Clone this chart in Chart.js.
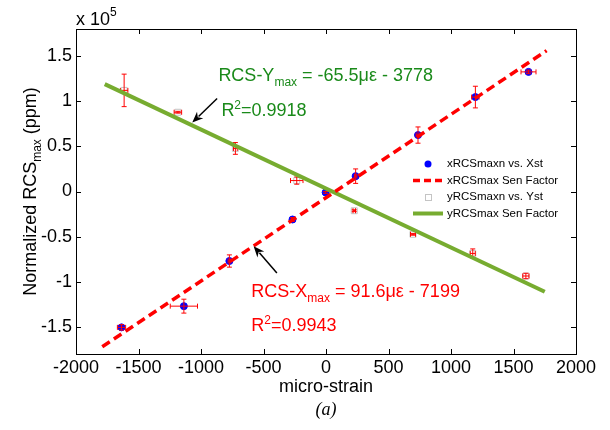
<!DOCTYPE html>
<html>
<head>
<meta charset="utf-8">
<title>Normalized RCS max vs micro-strain</title>
<script src="https://cdn.jsdelivr.net/npm/chart.js@4.4.0/dist/chart.umd.min.js"></script>
<style>
  body { margin: 0; background: #fff; }
  #wrap { width: 610px; height: 430px; }
</style>
</head>
<body>
<div id="wrap"><canvas id="rcsChart" width="610" height="430"></canvas></div>
<script>
// measured points: x in micro-strain, y in units of 1e5 ppm
const xStrain = [-1636, -1137, -773, -268, -3, 237, 736, 1195, 1620];
const xRcs = [-1.505, -1.27, -0.77, -0.31, -0.01, 0.17, 0.625, 1.046, 1.325];
const xStrainErr = [33, 109, 10, 8, 0, 10, 15, 30, 60];
const xRcsErr = [0.03, 0.077, 0.068, 0.02, 0.01, 0.08, 0.09, 0.12, 0.02];

const yStrain = [-1615, -1185, -725, -234, 226, 696, 1174, 1599];
const yRcs = [1.12, 0.878, 0.477, 0.121, -0.213, -0.474, -0.686, -0.936];
const yStrainErr = [30, 30, 15, 50, 10, 20, 20, 25];
const yRcsErr = [0.18, 0.01, 0.065, 0.04, 0.01, 0.01, 0.05, 0.03];

// sensitivity factor lines (end points)
const xFitStrain = [-1790, 1765];
const xFitRcs = [-1.72, 1.56];
const yFitStrain = [-1770, 1750];
const yFitRcs = [1.19, -1.11];

// tick labels
const xTicks = [-2000, -1500, -1000, -500, 0, 500, 1000, 1500, 2000];
const yTicks = [-1.5, -1, -0.5, 0, 0.5, 1, 1.5];

const seriesNames = [
  "xRCSmaxn vs. Xst",
  "xRCSmax Sen Factor",
  "yRCSmaxn vs. Yst",
  "yRCSmax Sen Factor",
];

// annotation anchors, in data units
const greenNote = { x: -861, y1: 1.22, y2: 0.84 };
const redNote = { x: -598, y1: -1.173, y2: -1.54 };
const greenArrow = { x0: -871, y0: 1.03, x1: -1070, y1: 0.763 };
const redArrow = { x0: -393, y0: -0.903, x1: -579, y1: -0.606 };

const FONT = '"Liberation Sans", Arial, sans-serif';
const BLUE = "#0000ff";
const RED = "#ff0000";
const GREEN_LINE = "#77ac30";
const GREEN_TEXT = "#1a8a1a";
const GRAY = "#c4c4c4";

function toPoints(xs, ys) {
  return xs.map((x, i) => ({ x: x, y: ys[i] }));
}

// draws text made of pieces, some of them sub/superscript
function drawRich(ctx, parts, x, y, color) {
  ctx.fillStyle = color;
  ctx.textBaseline = "alphabetic";
  ctx.textAlign = "left";
  let cx = x;
  parts.forEach((p) => {
    ctx.font = p.size + "px " + FONT;
    ctx.fillText(p.text, cx, y + (p.dy || 0));
    cx += ctx.measureText(p.text).width;
  });
  return cx - x;
}

function richWidth(ctx, parts) {
  let w = 0;
  parts.forEach((p) => {
    ctx.font = p.size + "px " + FONT;
    w += ctx.measureText(p.text).width;
  });
  return w;
}

function arrow(ctx, x0, y0, x1, y1) {
  const ang = Math.atan2(y1 - y0, x1 - x0);
  const len = 11;
  const half = 4.5;
  ctx.strokeStyle = "#000";
  ctx.fillStyle = "#000";
  ctx.lineWidth = 1.5;
  ctx.beginPath();
  ctx.moveTo(x0, y0);
  ctx.lineTo(x1 - Math.cos(ang) * len * 0.8, y1 - Math.sin(ang) * len * 0.8);
  ctx.stroke();
  ctx.beginPath();
  ctx.moveTo(x1, y1);
  ctx.lineTo(
    x1 - Math.cos(ang) * len + Math.sin(ang) * half,
    y1 - Math.sin(ang) * len - Math.cos(ang) * half
  );
  ctx.lineTo(x1 - Math.cos(ang) * len * 0.7, y1 - Math.sin(ang) * len * 0.7);
  ctx.lineTo(
    x1 - Math.cos(ang) * len - Math.sin(ang) * half,
    y1 - Math.sin(ang) * len + Math.cos(ang) * half
  );
  ctx.closePath();
  ctx.fill();
}

//error bars, frame, ticks, titles, notes and legend
const extras = {
  id: "extras",
  afterDatasetDraw(chart, args) {
    let xs, ys, ex, ey;
    if (args.index === 0) {
      xs = xStrain; ys = xRcs; ex = xStrainErr; ey = xRcsErr;
    } else if (args.index === 2) {
      xs = yStrain; ys = yRcs; ex = yStrainErr; ey = yRcsErr;
    } else {
      return;
    }
    const ctx = chart.ctx;
    const sx = chart.scales.x;
    const sy = chart.scales.y;
    const cap = 2.5;
    ctx.save();
    ctx.strokeStyle = RED;
    ctx.lineWidth = 1;
    xs.forEach((x, i) => {
      const px = sx.getPixelForValue(x);
      const py = sy.getPixelForValue(ys[i]);
      const left = sx.getPixelForValue(x - ex[i]);
      const right = sx.getPixelForValue(x + ex[i]);
      const top = sy.getPixelForValue(ys[i] + ey[i]);
      const bottom = sy.getPixelForValue(ys[i] - ey[i]);
      ctx.beginPath();
      if (right - left > 1) {
        ctx.moveTo(left, py); ctx.lineTo(right, py);
        ctx.moveTo(left, py - cap); ctx.lineTo(left, py + cap);
        ctx.moveTo(right, py - cap); ctx.lineTo(right, py + cap);
      }
      if (bottom - top > 1) {
        ctx.moveTo(px, top); ctx.lineTo(px, bottom);
        ctx.moveTo(px - cap, top); ctx.lineTo(px + cap, top);
        ctx.moveTo(px - cap, bottom); ctx.lineTo(px + cap, bottom);
      }
      ctx.stroke();
    });
    ctx.restore();
  },
  afterDraw(chart) {
    const ctx = chart.ctx;
    const a = chart.chartArea;
    const sx = chart.scales.x;
    const sy = chart.scales.y;
    ctx.save();

    // box + inward ticks on all sides
    ctx.strokeStyle = "#000";
    ctx.lineWidth = 1;
    ctx.strokeRect(a.left + 0.5, a.top + 0.5, a.right - a.left, a.bottom - a.top);
    ctx.beginPath();
    xTicks.forEach((v) => {
      const px = Math.round(sx.getPixelForValue(v)) + 0.5;
      ctx.moveTo(px, a.bottom); ctx.lineTo(px, a.bottom - 5);
      ctx.moveTo(px, a.top); ctx.lineTo(px, a.top + 5);
    });
    yTicks.forEach((v) => {
      const py = Math.round(sy.getPixelForValue(v)) + 0.5;
      ctx.moveTo(a.left, py); ctx.lineTo(a.left + 5, py);
      ctx.moveTo(a.right, py); ctx.lineTo(a.right - 5, py);
    });
    ctx.stroke();

    // exponent label
    drawRich(ctx, [
      { text: "x 10", size: 18 },
      { text: "5", size: 12, dy: -9 },
    ], a.left, a.top - 4, "#000");

    // x title
    ctx.fillStyle = "#000";
    ctx.font = "18px " + FONT;
    ctx.textAlign = "center";
    ctx.textBaseline = "middle";
    ctx.fillText("micro-strain", (a.left + a.right) / 2, 387);
    ctx.font = 'italic 18px "Liberation Serif", "Times New Roman", serif';
    ctx.fillText("(a)", (a.left + a.right) / 2, 410);

    // y title, rotated
    const yTitle = [
      { text: "Normalized RCS", size: 18 },
      { text: "max", size: 12, dy: 5 },
      { text: " (ppm)", size: 18 },
    ];
    ctx.save();
    ctx.translate(36, (a.top + a.bottom) / 2);
    ctx.rotate(-Math.PI / 2);
    drawRich(ctx, yTitle, -richWidth(ctx, yTitle) / 2, 0, "#000");
    ctx.restore();

    // fit equations
    drawRich(ctx, [
      { text: "RCS-Y", size: 18 },
      { text: "max", size: 12, dy: 5 },
      { text: " = -65.5\u03bc\u03b5 - 3778", size: 18 },
    ], sx.getPixelForValue(greenNote.x), sy.getPixelForValue(greenNote.y1), GREEN_TEXT);
    drawRich(ctx, [
      { text: "R", size: 18 },
      { text: "2", size: 12, dy: -7 },
      { text: "=0.9918", size: 18 },
    ], sx.getPixelForValue(greenNote.x) + 3, sy.getPixelForValue(greenNote.y2), GREEN_TEXT);
    drawRich(ctx, [
      { text: "RCS-X", size: 18 },
      { text: "max", size: 12, dy: 5 },
      { text: " = 91.6\u03bc\u03b5 - 7199", size: 18 },
    ], sx.getPixelForValue(redNote.x), sy.getPixelForValue(redNote.y1), RED);
    drawRich(ctx, [
      { text: "R", size: 18 },
      { text: "2", size: 12, dy: -7 },
      { text: "=0.9943", size: 18 },
    ], sx.getPixelForValue(redNote.x), sy.getPixelForValue(redNote.y2), RED);

    [greenArrow, redArrow].forEach((ar) => {
      arrow(ctx,
        sx.getPixelForValue(ar.x0), sy.getPixelForValue(ar.y0),
        sx.getPixelForValue(ar.x1), sy.getPixelForValue(ar.y1));
    });

    // legend (no box)
    const lx = a.right - 163;
    const tx = a.right - 129;
    const ly = a.top + 135;
    const row = 16.5;
    ctx.font = "11.5px " + FONT;
    ctx.textAlign = "left";
    ctx.textBaseline = "middle";
    seriesNames.forEach((name, i) => {
      const y = ly + i * row;
      const cx = lx + 15;
      if (i === 0) {
        ctx.fillStyle = BLUE;
        ctx.beginPath();
        ctx.arc(cx, y, 3.5, 0, Math.PI * 2);
        ctx.fill();
      } else if (i === 2) {
        ctx.strokeStyle = GRAY;
        ctx.lineWidth = 1;
        ctx.strokeRect(cx - 2.5, y - 2.5, 6, 6);
      } else {
        ctx.strokeStyle = i === 1 ? RED : GREEN_LINE;
        ctx.lineWidth = i === 1 ? 3.5 : 4;
        ctx.setLineDash(i === 1 ? [7, 4] : []);
        ctx.beginPath();
        ctx.moveTo(lx, y); ctx.lineTo(lx + 30, y);
        ctx.stroke();
        ctx.setLineDash([]);
      }
      ctx.fillStyle = "#000";
      ctx.fillText(name, tx, y);
    });

    ctx.restore();
  },
};

const ctx = document.getElementById("rcsChart").getContext("2d");

const rcsChart = new Chart(ctx, {
  type: "scatter",
  data: {
    datasets: [
      {
        label: seriesNames[0],
        data: toPoints(xStrain, xRcs),
        backgroundColor: BLUE,
        borderColor: BLUE,
        pointRadius: 3.5,
        order: 2,
      },
      {
        label: seriesNames[1],
        data: toPoints(xFitStrain, xFitRcs),
        showLine: true,
        borderColor: RED,
        borderWidth: 3.5,
        borderDash: [9, 5],
        pointRadius: 0,
        order: 0,
      },
      {
        label: seriesNames[2],
        data: toPoints(yStrain, yRcs),
        pointStyle: "rect",
        pointRadius: 4.2,
        backgroundColor: "rgba(0,0,0,0)",
        borderColor: GRAY,
        borderWidth: 1,
        order: 3,
      },
      {
        label: seriesNames[3],
        data: toPoints(yFitStrain, yFitRcs),
        showLine: true,
        borderColor: GREEN_LINE,
        borderWidth: 4,
        pointRadius: 0,
        order: 1,
      },
    ],
  },
  options: {
    responsive: false,
    animation: false,
    layout: { padding: { top: 29, right: 34, left: 0, bottom: 0 } },
    plugins: {
      legend: { display: false },
      tooltip: { enabled: false },
    },
    scales: {
      x: {
        type: "linear",
        min: -2000,
        max: 2000,
        grid: { display: false, drawTicks: false, tickLength: 0 },
        border: { display: false },
        afterBuildTicks: (scale) => {
          scale.ticks = xTicks.map((v) => ({ value: v }));
        },
        afterFit: (scale) => {
          scale.height = 76;
        },
        ticks: {
          padding: 3,
          color: "#000",
          font: { family: FONT, size: 18 },
          maxRotation: 0,
          autoSkip: false,
          callback: (v) => String(v),
        },
      },
      y: {
        type: "linear",
        min: -1.8,
        max: 1.8,
        grid: { display: false, drawTicks: false, tickLength: 0 },
        border: { display: false },
        afterBuildTicks: (scale) => {
          scale.ticks = yTicks.map((v) => ({ value: v }));
        },
        afterFit: (scale) => {
          scale.width = 76;
        },
        ticks: {
          padding: 4,
          color: "#000",
          font: { family: FONT, size: 18 },
          autoSkip: false,
          callback: (v) => String(v),
        },
      },
    },
  },
  plugins: [extras],
});
</script>
</body>
</html>
